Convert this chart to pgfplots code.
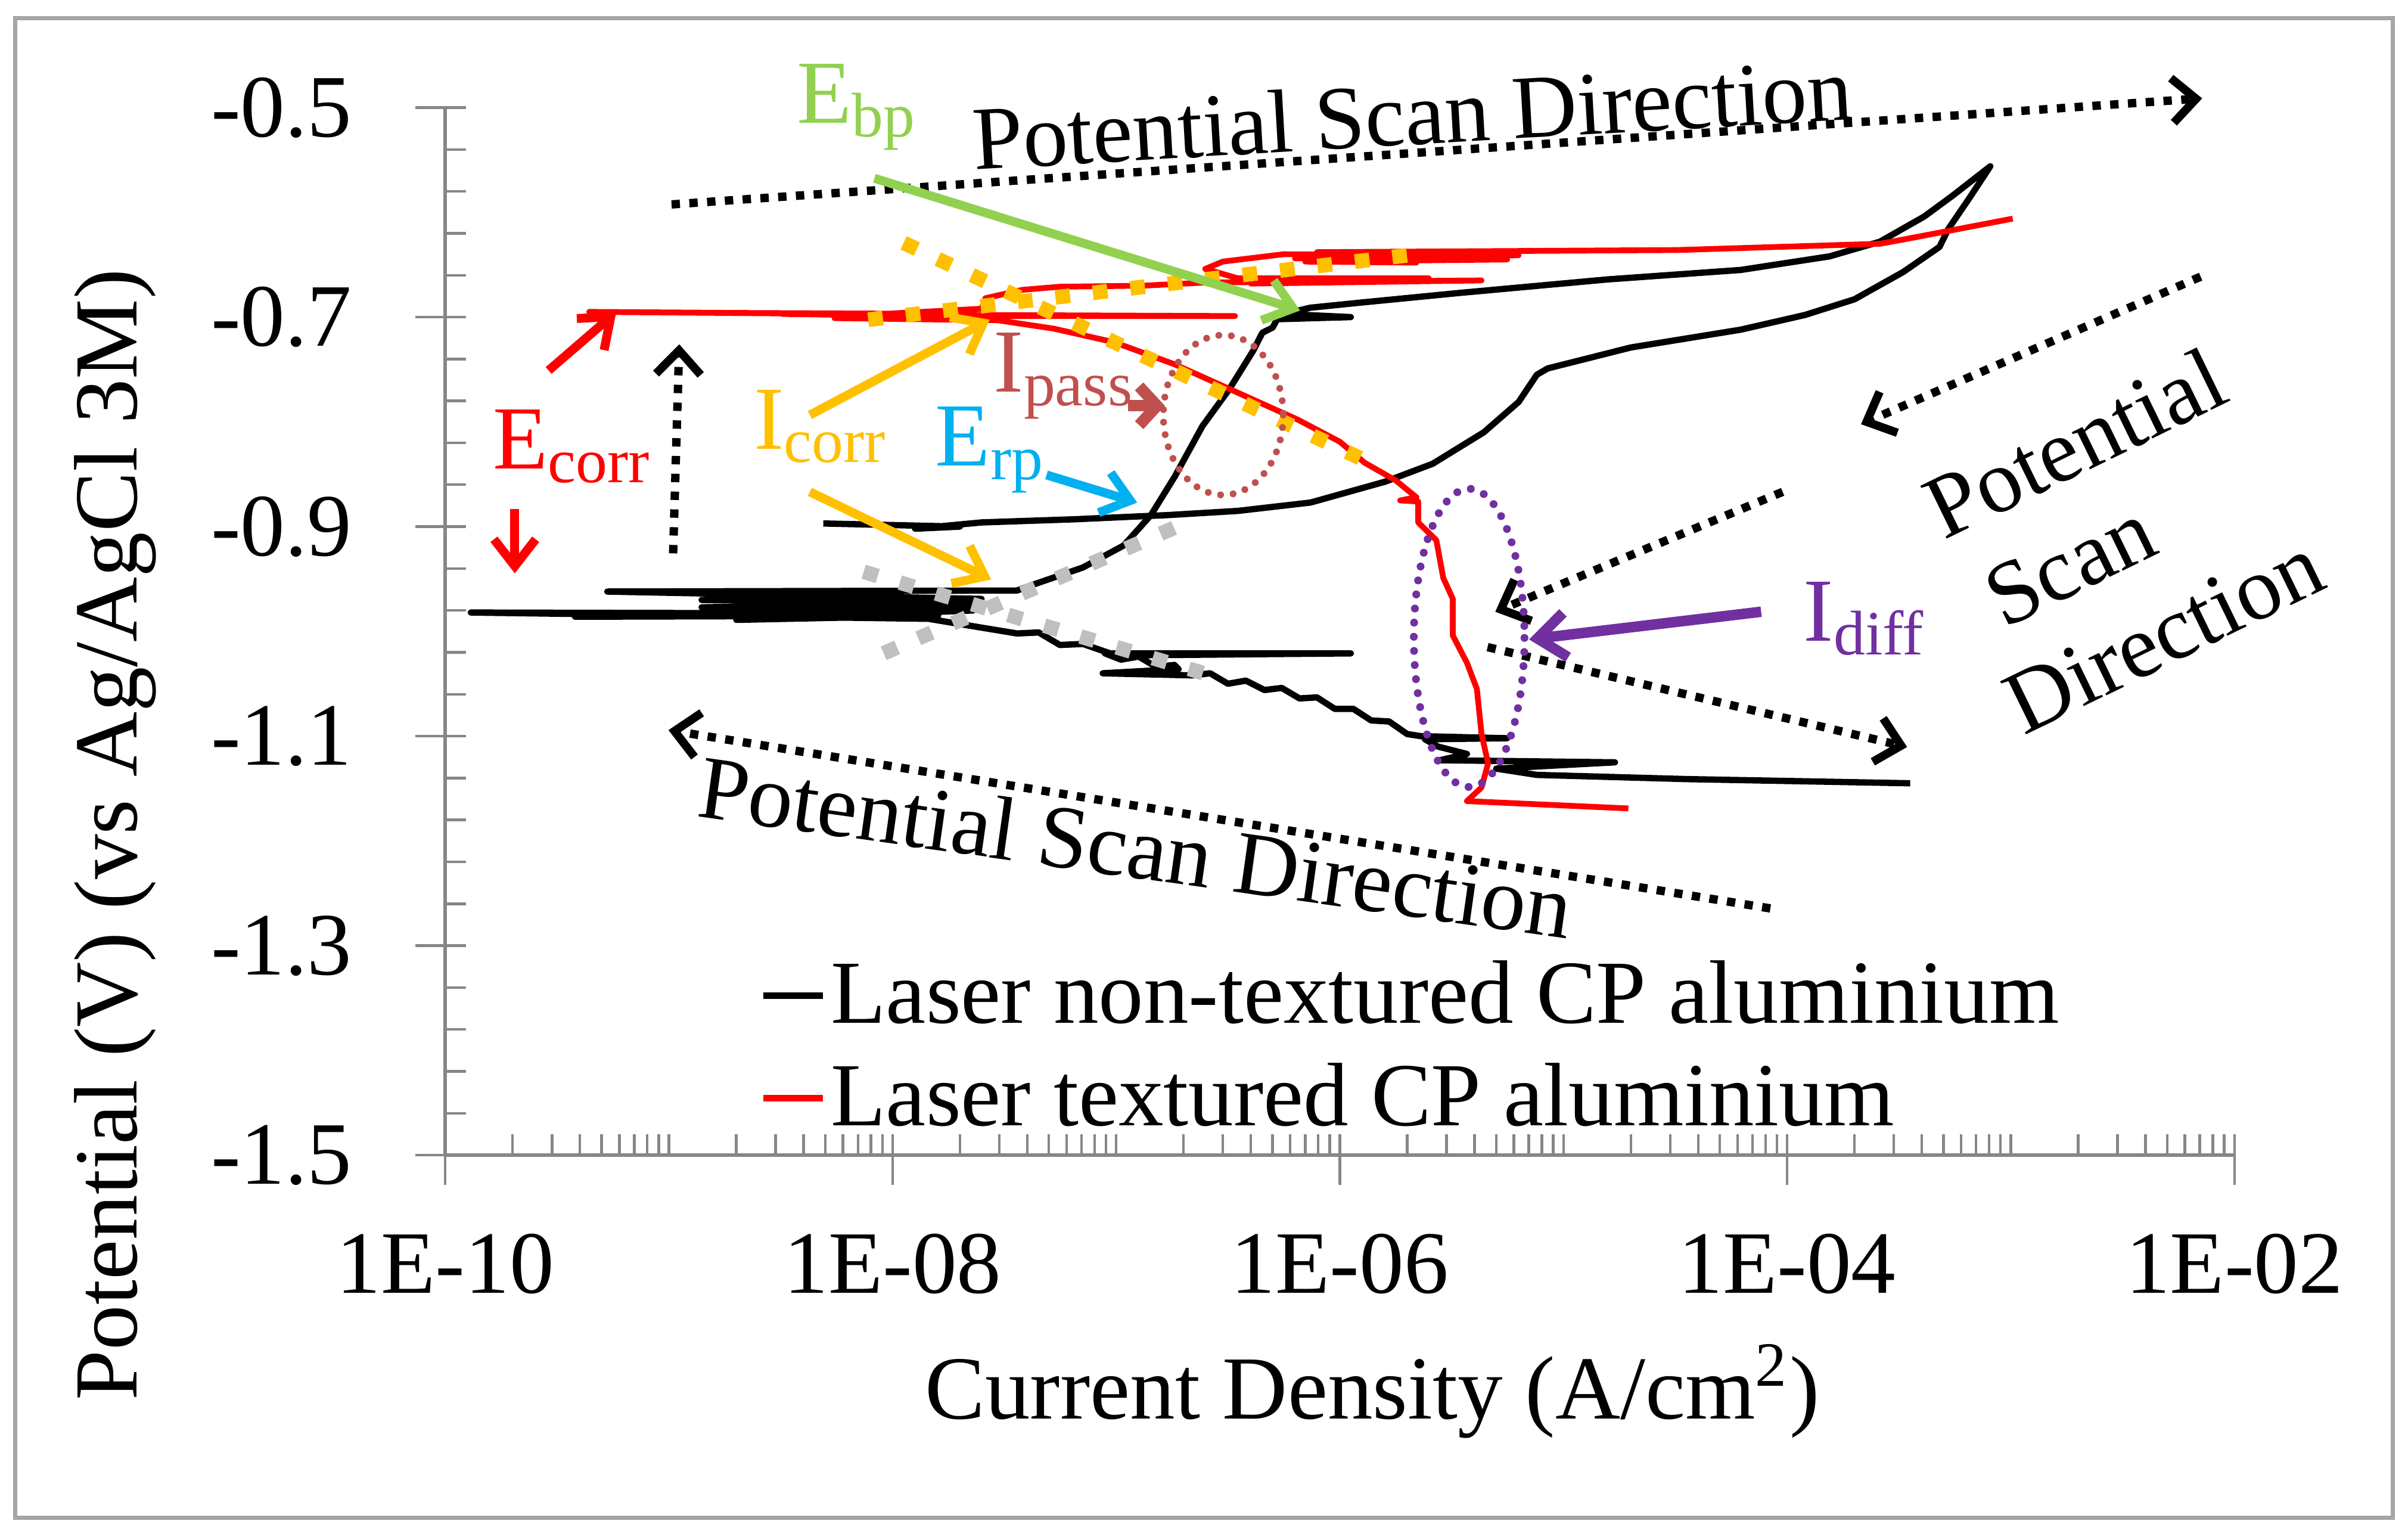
\documentclass[border=0pt]{standalone}
\usepackage{fontspec}
\setmainfont{Liberation Serif}
\usepackage{pgfplots}
\pgfplotsset{compat=1.18}
\usetikzlibrary{arrows.meta}

\definecolor{axisgray}{RGB}{134,134,134}
\definecolor{framegray}{RGB}{165,165,165}
\definecolor{xlorange}{RGB}{255,192,0}
\definecolor{xlgray}{RGB}{191,191,191}
\definecolor{xlgreen}{RGB}{146,208,80}
\definecolor{xlblue}{RGB}{0,176,240}
\definecolor{xlbrown}{RGB}{192,80,77}
\definecolor{xlpurple}{RGB}{112,48,160}

\newcommand\txt{\fontsize{17.2}{21}\selectfont}

\tikzset{
  dotarrow/.style={line width=1.6pt, dash pattern=on 1.6pt off 1.8pt,
    -{Straight Barb[length=1.6mm, width=3mm]}},
  colarrow/.style={line width=1.7pt, -{Straight Barb[length=1.8mm, width=2.8mm]}},
  tangent/.style={line width=2.8pt, dash pattern=on 2.8pt off 4.4pt},
  lab/.style={anchor=base west, inner sep=0pt},
}

\begin{document}
\begin{tikzpicture}[font=\txt]
\path (0,0) rectangle (16.163,-10.267);
\draw[framegray, line width=0.8pt] (0.103,-0.124) rectangle (16.06,-10.184);

\begin{axis}[
  at={(2.989cm,-7.752cm)}, anchor=south west,
  scale only axis, width=12.009cm, height=7.030cm,
  xmode=log, xmin=1e-10, xmax=1e-2, ymin=-1.5, ymax=-0.5,
  axis lines*=left,
  axis line style={-, draw=axisgray, line width=0.7pt},
  clip=false,
  xtick={1e-10,1e-8,1e-6,1e-4,1e-2},
  xticklabels={1E-10,1E-08,1E-06,1E-04,1E-02},
  minor xtick={2e-10,3e-10,4e-10,5e-10,6e-10,7e-10,8e-10,9e-10,1e-9,
    2e-9,3e-9,4e-9,5e-9,6e-9,7e-9,8e-9,9e-9,
    2e-8,3e-8,4e-8,5e-8,6e-8,7e-8,8e-8,9e-8,1e-7,
    2e-7,3e-7,4e-7,5e-7,6e-7,7e-7,8e-7,9e-7,
    2e-6,3e-6,4e-6,5e-6,6e-6,7e-6,8e-6,9e-6,1e-5,
    2e-5,3e-5,4e-5,5e-5,6e-5,7e-5,8e-5,9e-5,
    2e-4,3e-4,4e-4,5e-4,6e-4,7e-4,8e-4,9e-4,1e-3,
    2e-3,3e-3,4e-3,5e-3,6e-3,7e-3,8e-3,9e-3},
  ytick={-1.5,-1.3,-1.1,-0.9,-0.7,-0.5},
  yticklabels={-1.5,-1.3,-1.1,-0.9,-0.7,-0.5},
  minor ytick={-1.46,-1.42,-1.38,-1.34,-1.26,-1.22,-1.18,-1.14,-1.06,-1.02,
    -0.98,-0.94,-0.86,-0.82,-0.78,-0.74,-0.66,-0.62,-0.58,-0.54},
  tick align=inside,
  major tick length=0.14cm, minor tick length=0.14cm,
  tick style={draw=axisgray, line width=0.5pt},
  extra x ticks={1e-10,1e-8,1e-6,1e-4,1e-2},
  extra x tick labels={,,,,},
  extra y ticks={-1.5,-1.3,-1.1,-0.9,-0.7,-0.5},
  extra y tick labels={,,,,,},
  extra tick style={tick align=outside, major tick length=0.2cm},
  xticklabel style={anchor=north, inner sep=0pt, yshift=-0.52cm,
    font=\fontsize{17}{20}\selectfont},
  yticklabel style={anchor=east, inner sep=0pt, xshift=-0.62cm,
    font=\fontsize{17}{20}\selectfont},
  legend style={at={(0.176,0.186)}, anchor=north west, draw=none, fill=none,
    inner sep=0pt, outer sep=0pt, row sep=0.216cm, column sep=0.03cm,
    font=\txt, nodes={inner sep=0pt}},
  legend cell align=left,
  legend image code/.code={\draw[#1, line width=1.3pt] (0cm,0cm) -- (0.40cm,0cm);},
]
% laser non-textured
\addplot[black, line width=1.2pt, line join=round] coordinates {
(3.55e-4,-1.145) (3.55e-5,-1.141) (7.6e-6,-1.137) (5.0e-6,-1.131)
(1.7e-5,-1.125) (2.8e-6,-1.123) (3.7e-6,-1.117) (2.75e-6,-1.110)
(2.4e-6,-1.103) (5.6e-6,-1.102) (2.3e-6,-1.100) (2.0e-6,-1.098)
(1.66e-6,-1.086) (1.38e-6,-1.085) (1.15e-6,-1.074) (9.5e-7,-1.074)
(7.9e-7,-1.063) (6.6e-7,-1.064) (5.5e-7,-1.054) (4.6e-7,-1.056)
(3.8e-7,-1.047) (3.16e-7,-1.050) (2.63e-7,-1.040) (2.19e-7,-1.042)
(8.7e-8,-1.040) (1.9e-7,-1.036) (1.82e-7,-1.032) (1.51e-7,-1.034)
(1.26e-7,-1.024) (1.05e-7,-1.027) (8.9e-8,-1.021) (1.12e-6,-1.021)
(1.0e-7,-1.023) (7.1e-8,-1.012) (5.6e-8,-1.013) (4.5e-8,-1.001)
(3.6e-8,-1.002) (2.0e-8,-0.993) (1.45e-8,-0.988) (1.3e-10,-0.982)
(1.0e-8,-0.983) (3.8e-10,-0.986) (1.6e-8,-0.985) (2.0e-9,-0.989)
(2.3e-8,-0.980) (1.6e-9,-0.979) (2.2e-8,-0.975) (1.4e-9,-0.977)
(2.5e-8,-0.972) (1.4e-9,-0.970) (2.5e-8,-0.969) (5.3e-10,-0.962)
(3.6e-8,-0.961) (4.3e-8,-0.955) (7.1e-8,-0.939) (1.08e-7,-0.918)
(1.43e-7,-0.889) (1.83e-7,-0.852) (2.43e-7,-0.804) (3.2e-7,-0.769)
(4.1e-7,-0.732) (4.5e-7,-0.715) (5.0e-7,-0.710) (5.25e-7,-0.702)
(1.12e-6,-0.700) (5.6e-7,-0.697) (7.4e-7,-0.691) (1.26e-6,-0.686)
(3.4e-6,-0.677) (1.58e-5,-0.664) (6.2e-5,-0.655) (1.55e-4,-0.642)
(2.6e-4,-0.628) (4.1e-4,-0.604) (5.5e-4,-0.584) (8.1e-4,-0.556)
(6.5e-4,-0.587) (5.25e-4,-0.616) (4.8e-4,-0.633) (3.3e-4,-0.657)
(2.0e-4,-0.683) (1.2e-4,-0.698) (6.2e-5,-0.712) (2.0e-5,-0.729)
(8.5e-6,-0.749) (7.6e-6,-0.755) (6.3e-6,-0.781) (4.4e-6,-0.810)
(2.6e-6,-0.840) (1.6e-6,-0.857) (7.4e-7,-0.877) (3.5e-7,-0.885)
(1.7e-7,-0.889) (6.5e-8,-0.893) (2.5e-8,-0.896) (1.26e-8,-0.902)
(2.0e-8,-0.900) (4.9e-9,-0.897)
};
\addlegendentry{Laser non-textured CP aluminium}
% laser textured
\addplot[red, line width=1.1pt, line join=round] coordinates {
(1.95e-5,-1.169) (3.7e-6,-1.162) (4.3e-6,-1.149) (4.6e-6,-1.126)
(4.3e-6,-1.098) (4.1e-6,-1.055) (3.7e-6,-1.030) (3.2e-6,-1.004)
(3.2e-6,-0.969) (2.9e-6,-0.949) (2.7e-6,-0.913) (2.24e-6,-0.896)
(2.24e-6,-0.876) (1.86e-6,-0.875) (2.2e-6,-0.872) (1.78e-6,-0.856)
(1.29e-6,-0.839) (1.0e-6,-0.819) (6.5e-7,-0.798) (3.4e-7,-0.771)
(1.82e-7,-0.745) (9.8e-8,-0.724) (5.25e-8,-0.711) (2.95e-8,-0.703)
(5.5e-9,-0.701) (2.5e-8,-0.699) (3.4e-7,-0.699) (2.5e-8,-0.698)
(4.4e-10,-0.695) (2.0e-9,-0.696) (2.0e-8,-0.697) (3.2e-9,-0.697)
(3.0e-8,-0.700) (6.0e-9,-0.699) (2.5e-8,-0.692) (2.6e-8,-0.682)
(3.8e-8,-0.674) (5.6e-8,-0.671) (1.32e-7,-0.670) (2.5e-7,-0.667)
(4.3e-6,-0.665) (4.0e-7,-0.668) (2.5e-6,-0.663) (3.5e-7,-0.663)
(2.5e-7,-0.654) (3.0e-7,-0.647) (5.6e-7,-0.640) (6.3e-6,-0.641)
(6.3e-7,-0.644) (5.6e-6,-0.645) (7.0e-7,-0.647) (2.2e-6,-0.648)
(7.5e-7,-0.642) (6.0e-6,-0.639) (7.9e-7,-0.638) (3.2e-5,-0.636)
(2.6e-4,-0.630) (3.3e-4,-0.626) (1.02e-3,-0.606)
};
\addlegendentry{Laser textured CP aluminium}
\end{axis}

\begin{scope}[x=0.010308cm, y=-0.010308cm]
% axis titles
\node[rotate=90] at (75,543) {Potential (V) (vs Ag/AgCl 3M)};
\node at (893,905) {Current Density (A/cm\textsuperscript{2})};
% Tafel tangents
\draw[xlorange, tangent] (588,158) -- (885,298);
\draw[xlorange, tangent] (565,208) -- (925,165);
\draw[xlgray, tangent] (562,372) -- (790,440);
\draw[xlgray, tangent] (575,425) -- (772,340);
% scan direction arrows
\draw[dotarrow] (437,133) -- (1433,64);
\draw[dotarrow] (1152,591) -- (435,475);
\draw[dotarrow] (438,360) -- (442,224);
\draw[dotarrow] (1432,180) -- (1211,276);
\draw[dotarrow] (1160,320) -- (973,398);
\draw[dotarrow] (968,421) -- (1241,486);
\node[rotate=3.3] at (919,74) {Potential Scan Direction};
\node[rotate=-8] at (739,551) {Potential Scan Direction};
\node[rotate=26] at (1350,288) {Potential};
\node[rotate=26] at (1347,367) {Scan};
\node[rotate=26] at (1408,413) {Direction};
% marked regions
\draw[xlbrown, line width=1.3pt, line cap=round, dash pattern=on 0pt off 2.4pt]
  (796,270) ellipse [x radius=39, y radius=52];
\draw[xlpurple, line width=1.5pt, line cap=round, dash pattern=on 0pt off 2.7pt]
  (956,415) ellipse [x radius=36, y radius=97];
% labels and pointers
\node[lab, text=xlgreen] at (518,80) {E\textsubscript{bp}};
\draw[xlgreen, colarrow] (569,116) -- (846,202);
\node[lab, text=red] at (320,305) {E\textsubscript{corr}};
\draw[red, colarrow] (357,241) -- (401,203);
\draw[red, colarrow] (335,331) -- (335,373);
\node[lab, text=xlorange] at (490,292) {I\textsubscript{corr}};
\draw[xlorange, colarrow] (527,270) -- (644,208);
\draw[xlorange, colarrow] (527,320) -- (645,377);
\node[lab, text=xlblue] at (608,303) {E\textsubscript{rp}};
\draw[xlblue, colarrow] (681,309) -- (740,327);
\node[lab, text=xlbrown] at (646,255) {I\textsubscript{pass}};
\draw[xlbrown, line width=2.2pt, -{Straight Barb[length=1.2mm, width=2.6mm]}] (734,264) -- (758,264);
\node[lab, text=xlpurple] at (1173,417) {I\textsubscript{diff}};
\draw[xlpurple, line width=2pt, -{Straight Barb[length=1.9mm, width=3mm]}] (1146,398) -- (995,416);
\end{scope}
\end{tikzpicture}
\end{document}
